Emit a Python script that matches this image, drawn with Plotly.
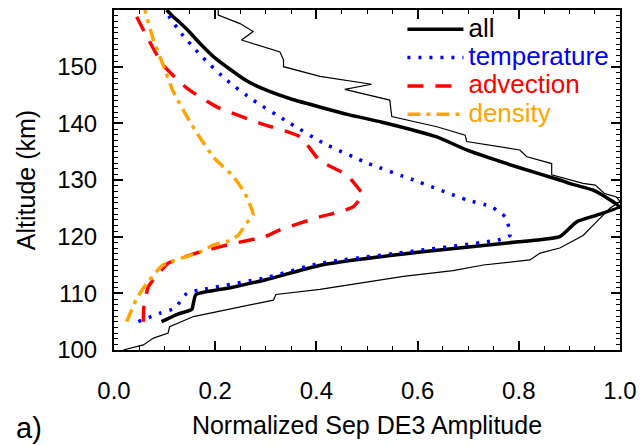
import plotly.graph_objects as go

# ---- data (normalized amplitude, altitude km) ----
all_amp = [0.094, 0.125, 0.154, 0.157, 0.162, 0.23, 0.30, 0.41, 0.605, 0.80, 0.881, 0.914, 0.954,
           0.998, 0.98, 0.947, 0.90, 0.881, 0.80, 0.697, 0.638, 0.53, 0.465, 0.41, 0.35, 0.30, 0.262,
           0.236, 0.20, 0.17, 0.145, 0.13, 0.115, 0.104]
all_alt = [105.0, 106.3, 107.2, 108.3, 109.8, 111.0, 112.4, 115.0, 117.3, 119.1, 120.0, 122.6, 123.8,
           125.3, 126.5, 128.2, 129.4, 130.0, 132.2, 135.3, 137.6, 140.2, 141.5, 142.8, 144.3, 145.9, 147.5,
           149.1, 151.5, 154.1, 156.5, 157.8, 159.0, 160.0]

thin_amp = [0.018, 0.058, 0.078, 0.107, 0.11, 0.157, 0.315, 0.32, 0.407, 0.572, 0.67, 0.73, 0.822, 0.842,
            0.881, 0.927, 0.951, 0.98, 1.0, 0.993, 0.97, 0.951, 0.927, 0.865, 0.865, 0.816, 0.802, 0.697,
            0.694, 0.638, 0.549, 0.545, 0.456, 0.509, 0.407, 0.335, 0.335, 0.328, 0.252, 0.275, 0.249,
            0.223, 0.206, 0.206]
thin_alt = [100.0, 100.9, 102.1, 103.0, 104.1, 105.9, 108.8, 109.8, 110.7, 113.0, 114.0, 115.0, 115.9, 117.1,
            118.0, 120.2, 122.4, 125.0, 126.2, 127.0, 127.6, 129.1, 129.4, 130.9, 132.9, 134.1, 135.3, 136.8,
            137.9, 139.4, 141.2, 144.1, 146.0, 146.9, 148.3, 150.0, 151.2, 152.6, 154.7, 156.2, 157.6,
            158.5, 159.1, 160.0]

temp_amp = [0.048, 0.091, 0.12, 0.144, 0.17, 0.302, 0.407, 0.605, 0.763, 0.783, 0.773, 0.745, 0.697,
            0.592, 0.503, 0.414, 0.348, 0.275, 0.223, 0.17, 0.13, 0.10]
temp_alt = [105.0, 106.5, 107.4, 110.0, 110.6, 112.8, 115.3, 117.6, 119.5, 120.3, 123.5, 125.3, 126.5,
            130.0, 132.9, 136.5, 140.0, 144.1, 147.6, 152.1, 156.2, 160.0]

adv_amp = [0.058, 0.059, 0.068, 0.088, 0.107, 0.17, 0.236, 0.298, 0.328, 0.407, 0.447, 0.473, 0.493,
           0.486, 0.46, 0.407, 0.368, 0.289, 0.203, 0.144, 0.097, 0.065, 0.038]
adv_alt = [105.0, 107.6, 111.2, 113.5, 115.3, 117.3, 118.8, 120.0, 121.2, 123.5, 124.4, 125.3, 127.6,
           128.2, 130.9, 133.4, 137.6, 140.0, 142.9, 146.2, 150.3, 155.3, 160.0]

dens_amp = [0.025, 0.045, 0.065, 0.097, 0.17, 0.196, 0.223, 0.246, 0.262, 0.275, 0.259, 0.236, 0.196,
            0.154, 0.117, 0.097, 0.078, 0.061]
dens_alt = [105.0, 109.1, 111.8, 115.0, 117.3, 118.5, 119.1, 120.3, 122.4, 123.8, 127.6, 130.6, 134.1,
            139.7, 145.6, 150.3, 154.7, 160.0]

x_ticks = [0.0, 0.2, 0.4, 0.6, 0.8, 1.0]
x_ticklabels = ["0.0", "0.2", "0.4", "0.6", "0.8", "1.0"]
y_ticks = [100, 110, 120, 130, 140, 150, 160]

FONT = "Liberation Sans, Arial, Helvetica, sans-serif"
LEG = 26
SM = 0.5

fig = go.Figure()
fig.add_trace(go.Scatter(x=thin_amp, y=thin_alt, mode="lines", showlegend=False,
                         line=dict(color="black", width=1.2), hoverinfo="skip"))
fig.add_trace(go.Scatter(x=all_amp, y=all_alt, mode="lines",
                         name=f'<span style="font-size:{LEG}px;color:black">all</span>',
                         line=dict(color="black", width=3.5, shape="spline", smoothing=SM)))
fig.add_trace(go.Scatter(x=temp_amp, y=temp_alt, mode="lines",
                         name=f'<span style="font-size:{LEG}px;color:#0000FF">temperature</span>',
                         line=dict(color="#0000FF", width=3.5, dash="3px,8px", shape="spline", smoothing=SM)))
fig.add_trace(go.Scatter(x=adv_amp, y=adv_alt, mode="lines",
                         name=f'<span style="font-size:{LEG}px;color:#FF0000">advection</span>',
                         line=dict(color="#FF0000", width=3.5, dash="16px,12px", shape="spline", smoothing=SM)))
fig.add_trace(go.Scatter(x=dens_amp, y=dens_alt, mode="lines",
                         name=f'<span style="font-size:{LEG}px;color:#FFA500">density</span>',
                         line=dict(color="#FFA500", width=3.5, dash="13px,6px,4px,6px", shape="spline",
                                   smoothing=SM)))

axis_common = dict(
    showline=True, linecolor="black", linewidth=2, mirror="allticks",
    ticks="inside", tickcolor="black", tickwidth=1.5, ticklen=9,
    showgrid=False, zeroline=False,
    tickfont=dict(family=FONT, size=24, color="black"),
)

fig.update_xaxes(range=[0, 1], tickvals=x_ticks, ticktext=x_ticklabels,
                 minor=dict(dtick=0.05, ticks="inside", ticklen=4, tickcolor="black", tickwidth=1.2),
                 ticklabelstandoff=18,
                 title=dict(text="Normalized Sep DE3 Amplitude", font=dict(family=FONT, size=25, color="black"),
                            standoff=14),
                 **axis_common)
fig.update_yaxes(range=[100, 160], tickvals=y_ticks,
                 minor=dict(dtick=1, ticks="inside", ticklen=4, tickcolor="black", tickwidth=1.2),
                 ticklabelstandoff=10,
                 title=dict(text="Altitude (km)", font=dict(family=FONT, size=25, color="black"),
                            standoff=14),
                 **axis_common)

fig.add_annotation(text="a)", xref="paper", yref="paper", x=-0.197, y=-0.228, xanchor="left",
                   yanchor="middle", showarrow=False, font=dict(family=FONT, size=29, color="black"))

fig.update_layout(
    width=642, height=445,
    margin=dict(l=114, r=22, t=10, b=95, autoexpand=False),
    paper_bgcolor="white", plot_bgcolor="white",
    font=dict(family=FONT, color="black"),
    legend=dict(x=0.57, y=1.0, xanchor="left", yanchor="top", bgcolor="rgba(0,0,0,0)",
                borderwidth=0, itemwidth=56, font=dict(family=FONT, size=19.5),
                tracegroupgap=0),
    showlegend=True,
)

fig.write_html("out.html")
